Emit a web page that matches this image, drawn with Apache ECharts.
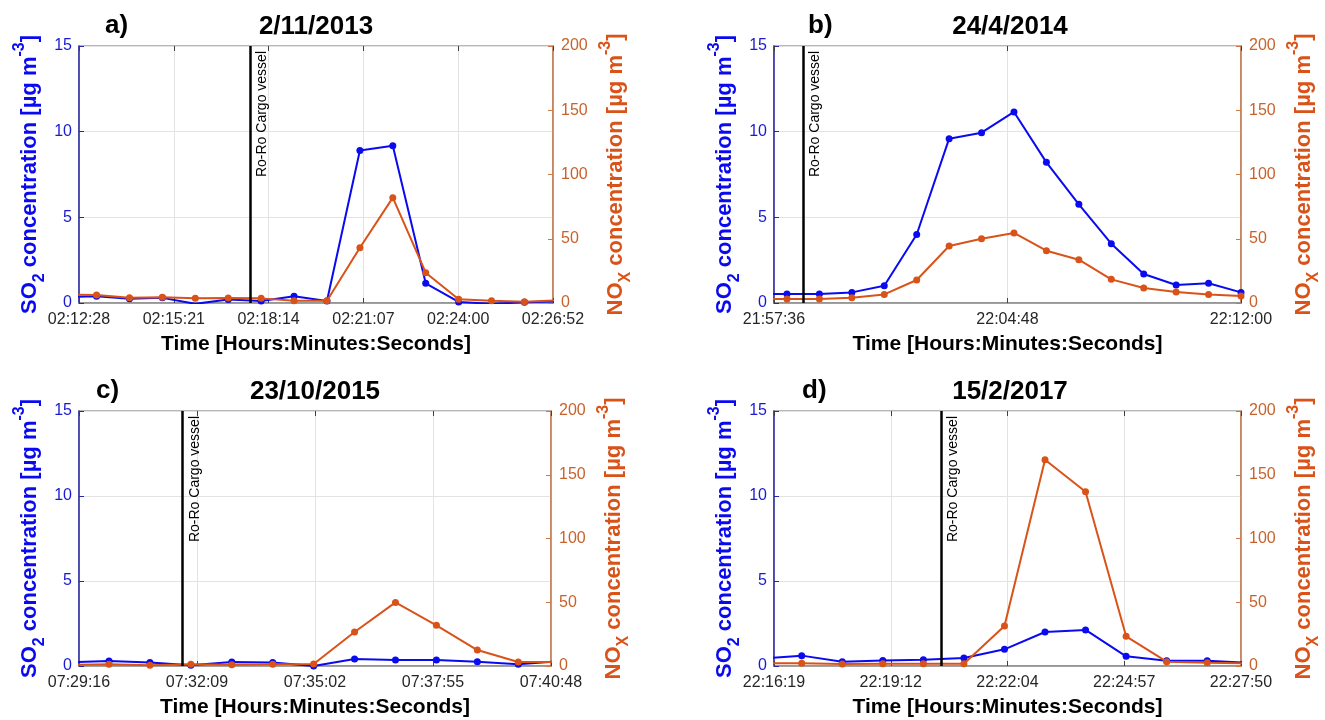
<!DOCTYPE html>
<html>
<head>
<meta charset="utf-8">
<script src="https://cdn.jsdelivr.net/npm/echarts@6/dist/echarts.min.js"></script>
<style>
  html, body { margin: 0; background: #fff; }
  #cn { width: 1325px; height: 720px; }
</style>
</head>
<body>
<div id="cn"></div>
<script>
'use strict';

// panel headers
const panelTags = ['a)', 'b)', 'c)', 'd)'];
const panelDates = ['2/11/2013', '24/4/2014', '23/10/2015', '15/2/2017'];

// x axis tick labels (first and last = axis limits)
const ticksA = ['02:12:28', '02:15:21', '02:18:14', '02:21:07', '02:24:00', '02:26:52'];
const ticksB = ['21:57:36', '22:04:48', '22:12:00'];
const ticksC = ['07:29:16', '07:32:09', '07:35:02', '07:37:55', '07:40:48'];
const ticksD = ['22:16:19', '22:19:12', '22:22:04', '22:24:57', '22:27:50'];

// ship passing time
const vesselTimes = ['02:17:40', '21:58:30', '07:31:48', '22:20:26'];
const vesselText = 'Ro-Ro Cargo vessel';

// a) 2/11/2013
const timesA = ['02:12:00', '02:13:00', '02:14:00', '02:15:00', '02:16:00', '02:17:00', '02:18:00', '02:19:00',
    '02:20:00', '02:21:00', '02:22:00', '02:23:00', '02:24:00', '02:25:00', '02:26:00', '02:27:00'];
const so2A = [0.35, 0.4, 0.25, 0.3, -0.05, 0.2, 0.12, 0.4, 0.12, 8.9, 9.18, 1.15, 0.06, -0.05, 0.04, 0.1];
const noxA = [6.5, 6.2, 4.0, 4.4, 3.6, 3.9, 3.6, 1.8, 1.8, 43, 82, 23.6, 2.9, 1.8, 1.0, 2.0];

// b) 24/4/2014
const timesB = ['21:57:00', '21:58:00', '21:59:00', '22:00:00', '22:01:00', '22:02:00', '22:03:00', '22:04:00',
    '22:05:00', '22:06:00', '22:07:00', '22:08:00', '22:09:00', '22:10:00', '22:11:00', '22:12:00'];
const so2B = [0.53, 0.53, 0.53, 0.62, 1.01, 4.0, 9.59, 9.94, 11.15, 8.21, 5.76, 3.46, 1.69, 1.05, 1.15, 0.62];
const noxB = [3.0, 3.1, 3.1, 4.1, 6.7, 17.9, 44.4, 50, 54.5, 40.7, 33.7, 18.4, 11.7, 8.6, 6.7, 5.4];

// c) 23/10/2015
const timesC = ['07:29:00', '07:30:00', '07:31:00', '07:32:00', '07:33:00', '07:34:00', '07:35:00',
    '07:36:00', '07:37:00', '07:38:00', '07:39:00', '07:40:00', '07:41:00'];
const so2C = [0.22, 0.29, 0.2, 0.04, 0.24, 0.2, 0.0, 0.41, 0.35, 0.35, 0.25, 0.1, 0.28];
const noxC = [1.0, 1.3, 0.5, 1.3, 1.0, 1.3, 1.6, 26.7, 49.9, 31.9, 12.5, 3.1, 3.2];

// d) 15/2/2017
const timesD = ['22:16:00', '22:17:00', '22:18:00', '22:19:00', '22:20:00', '22:21:00', '22:22:00',
    '22:23:00', '22:24:00', '22:25:00', '22:26:00', '22:27:00', '22:28:00'];
const so2D = [0.43, 0.61, 0.25, 0.33, 0.37, 0.47, 0.98, 2.0, 2.12, 0.57, 0.31, 0.31, 0.18];
const noxD = [2.1, 2.1, 1.6, 1.8, 1.8, 1.8, 31.4, 161.8, 136.7, 23.3, 3.4, 2.6, 2.0];

const allTicks = [ticksA, ticksB, ticksC, ticksD];
const allTimes = [timesA, timesB, timesC, timesD];
const allSo2 = [so2A, so2B, so2C, so2D];
const allNox = [noxA, noxB, noxC, noxD];

// layout (px)
const boxes = [
    { left: 79, top: 46, width: 474, height: 257 },
    { left: 774, top: 46, width: 472, height: 257 },
    { left: 79, top: 411, width: 472, height: 255 },
    { left: 774, top: 411, width: 472, height: 255 }
];
const tagX = [105, 808, 96, 802];

const FONT = "'Liberation Sans', Arial, Helvetica, sans-serif";
const BLUE = '#0a0af0';
const ORANGE = '#d95319';
const BLUE_TXT = '#1a1ad0';
const ORANGE_TXT = '#c8622c';

const toSec = s => {
    const p = s.split(':').map(Number);
    return p[0] * 3600 + p[1] * 60 + p[2];
};

const nameRich = (color) => ({
    b: { fontSize: 22, fontWeight: 'bold', color: color, fontFamily: FONT, lineHeight: 40 },
    s: { fontSize: 16, fontWeight: 'bold', color: color, fontFamily: FONT, lineHeight: 16, padding: [22, 0, 2, 0] },
    p: { fontSize: 16, fontWeight: 'bold', color: color, fontFamily: FONT, lineHeight: 16, padding: [2, 0, 22, 0] }
});

let grid = [], xAxis = [], yAxis = [], series = [], graphic = [];

for (let i = 0; i < 4; i++) {
    const ticks = allTicks[i];
    const t0 = toSec(ticks[0]);
    const span = toSec(ticks[ticks.length - 1]) - t0;
    const step = span / (ticks.length - 1);
    const box = boxes[i];

    grid.push(Object.assign({
        show: true,
        borderColor: '#a0a0a0',
        borderWidth: 1.5,
        backgroundColor: '#fff'
    }, box));

    // bottom time axis
    xAxis.push({
        type: 'value',
        gridIndex: i,
        position: 'bottom',
        min: 0,
        max: span,
        interval: step,
        name: 'Time [Hours:Minutes:Seconds]',
        nameLocation: 'middle',
        nameGap: 31,
        nameTextStyle: { fontSize: 21, fontWeight: 'bold', color: '#000', fontFamily: FONT },
        axisLine: { show: true, onZero: false, lineStyle: { color: '#8c8c8c', width: 1.5 } },
        axisTick: { show: true, inside: true, length: 5, lineStyle: { color: '#404040' } },
        axisLabel: {
            margin: 9,
            fontSize: 16,
            color: '#262626',
            fontFamily: FONT,
            showMinLabel: true,
            showMaxLabel: true,
            formatter: v => ticks[Math.round(v / step)] || ''
        },
        splitLine: { show: true, lineStyle: { color: '#e3e3e3', width: 1 } }
    });
    // mirrored ticks on top
    xAxis.push({
        type: 'value',
        gridIndex: i,
        position: 'top',
        min: 0,
        max: span,
        interval: step,
        axisLine: { show: false, onZero: false },
        axisTick: { show: true, inside: true, length: 5, lineStyle: { color: '#404040' } },
        axisLabel: { show: false },
        splitLine: { show: false }
    });

    // SO2 (left)
    yAxis.push({
        type: 'value',
        gridIndex: i,
        position: 'left',
        min: 0,
        max: 15,
        interval: 5,
        name: '{b|SO}{s|2}{b| concentration [µg m}{p|-3}{b|]}',
        nameLocation: 'middle',
        nameRotate: 90,
        nameGap: 29,
        nameTextStyle: { rich: nameRich(BLUE) },
        axisLine: { show: true, onZero: false, lineStyle: { color: '#2626a6', width: 1.5 } },
        axisTick: { show: true, inside: true, length: 5, lineStyle: { color: '#2626a6' } },
        axisLabel: { margin: 7, fontSize: 16, color: BLUE_TXT, fontFamily: FONT },
        splitLine: { show: true, lineStyle: { color: '#e3e3e3', width: 1 } }
    });
    // NOx (right)
    yAxis.push({
        type: 'value',
        gridIndex: i,
        position: 'right',
        min: 0,
        max: 200,
        interval: 50,
        name: '{b|NO}{s|X}{b| concentration [µg m}{p|-3}{b|]}',
        nameLocation: 'middle',
        nameRotate: 90,
        nameGap: 43,
        nameTextStyle: { rich: nameRich(ORANGE) },
        axisLine: { show: true, onZero: false, lineStyle: { color: '#cf7646', width: 1.5 } },
        axisTick: { show: true, inside: true, length: 5, lineStyle: { color: '#cf7646' } },
        axisLabel: { margin: 8, fontSize: 16, color: ORANGE_TXT, fontFamily: FONT },
        splitLine: { show: false }
    });

    const times = allTimes[i];
    series.push({
        type: 'line',
        name: 'SO2',
        xAxisIndex: 2 * i,
        yAxisIndex: 2 * i,
        data: times.map((t, k) => [toSec(t) - t0, allSo2[i][k]]),
        symbol: 'circle',
        symbolSize: 7,
        lineStyle: { width: 2, color: BLUE },
        itemStyle: { color: BLUE },
        z: 3
    });
    series.push({
        type: 'line',
        name: 'NOx',
        xAxisIndex: 2 * i,
        yAxisIndex: 2 * i + 1,
        data: times.map((t, k) => [toSec(t) - t0, allNox[i][k]]),
        symbol: 'circle',
        symbolSize: 7,
        lineStyle: { width: 2, color: ORANGE },
        itemStyle: { color: ORANGE },
        z: 4,
        markLine: {
            silent: true,
            symbol: ['none', 'none'],
            lineStyle: { color: '#000', width: 2.5, type: 'solid' },
            label: {
                show: true,
                formatter: vesselText,
                position: 'insideEndBottom',
                distance: 5,
                color: '#000',
                fontSize: 14,
                fontFamily: FONT
            },
            data: [{ xAxis: toSec(vesselTimes[i]) - t0 }]
        }
    });

    // panel headers
    const ty = box.top - 19;
    graphic.push({
        type: 'text',
        left: tagX[i],
        top: ty - 14,
        style: { text: panelTags[i], fill: '#000', font: 'bold 26px ' + FONT }
    });
    graphic.push({
        type: 'text',
        x: box.left + box.width / 2,
        y: ty,
        style: {
            text: panelDates[i], fill: '#000', font: 'bold 26px ' + FONT,
            align: 'center', verticalAlign: 'middle',
            textAlign: 'center', textVerticalAlign: 'middle'
        }
    });
}

const chart = echarts.init(document.getElementById('cn'));
chart.setOption({
    animation: false,
    backgroundColor: '#fff',
    grid: grid,
    xAxis: xAxis,
    yAxis: yAxis,
    series: series,
    graphic: graphic
});
</script>
</body>
</html>
